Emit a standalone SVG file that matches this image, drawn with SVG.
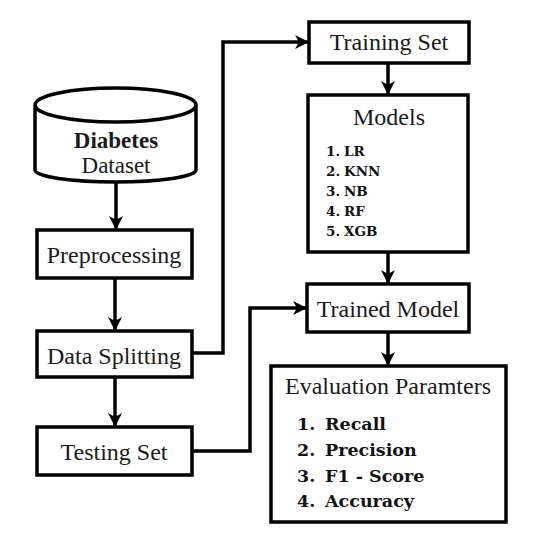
<svg xmlns="http://www.w3.org/2000/svg" width="540" height="543" viewBox="0 0 540 543">
<defs>
<marker id="ah" viewBox="0 0 14 14" refX="14" refY="7" markerWidth="14" markerHeight="14" markerUnits="userSpaceOnUse" orient="auto">
<path d="M0,0 L14,7 L0,14 L4,7 Z" fill="#000"/>
</marker>
<style>
.box{fill:#fff;stroke:#000;stroke-width:3.5}
.lbl{font-family:"Liberation Serif","Times New Roman",serif;font-size:24px;fill:#1a1a1a;text-anchor:middle}
.bl{font-family:"DejaVu Serif",serif;font-weight:bold;fill:#111}
.m{font-size:13.5px}
.e{font-size:17.5px}
.conn{fill:none;stroke:#000;stroke-width:3.5;marker-end:url(#ah)}
</style>
</defs>
<rect width="540" height="543" fill="#fff"/>
<g id="connectors">
<path class="conn" d="M116,182 V230"/>
<path class="conn" d="M115,278 V331"/>
<path class="conn" d="M115,377 V427"/>
<path class="conn" d="M192,353 H223 V42 H309"/>
<path class="conn" d="M192,451 H250 V308 H307"/>
<path class="conn" d="M388,63 V95"/>
<path class="conn" d="M388,252 V284"/>
<path class="conn" d="M388,332 V366"/>
</g>
<g id="dataset">
<path class="box" d="M35,105 V170 A80.5,12 0 0 0 196,170 V105 A80.5,17 0 0 0 35,105 A80.5,17 0 0 0 196,105"/>
<text class="lbl" x="116" y="148" style="font-weight:bold;font-size:23px">Diabetes</text>
<text class="lbl" x="116" y="173" style="font-size:23px">Dataset</text>
</g>
<g id="preprocessing">
<rect class="box" x="37" y="230" width="155" height="48"/>
<text class="lbl" x="114" y="263">Preprocessing</text>
</g>
<g id="data-splitting">
<rect class="box" x="37" y="331" width="155" height="46"/>
<text class="lbl" x="114" y="364">Data Splitting</text>
</g>
<g id="testing-set">
<rect class="box" x="37" y="427" width="155" height="48"/>
<text class="lbl" x="114" y="460">Testing Set</text>
</g>
<g id="training-set">
<rect class="box" x="309" y="22" width="160" height="41"/>
<text class="lbl" x="389" y="50">Training Set</text>
</g>
<g id="models">
<rect class="box" x="308" y="95" width="160" height="157"/>
<text class="lbl" x="389" y="125">Models</text>
<text class="bl m"><tspan x="326" y="156">1.</tspan><tspan x="344">LR</tspan></text>
<text class="bl m"><tspan x="326" y="176">2.</tspan><tspan x="344">KNN</tspan></text>
<text class="bl m"><tspan x="326" y="196">3.</tspan><tspan x="344">NB</tspan></text>
<text class="bl m"><tspan x="326" y="216">4.</tspan><tspan x="344">RF</tspan></text>
<text class="bl m"><tspan x="326" y="236">5.</tspan><tspan x="344">XGB</tspan></text>
</g>
<g id="trained-model">
<rect class="box" x="307" y="284" width="162" height="48"/>
<text class="lbl" x="388" y="317">Trained Model</text>
</g>
<g id="evaluation">
<rect class="box" x="271" y="366" width="235" height="156"/>
<text class="lbl" x="388" y="394">Evaluation Paramters</text>
<text class="bl e"><tspan x="297" y="430">1.</tspan><tspan x="325">Recall</tspan></text>
<text class="bl e"><tspan x="297" y="456">2.</tspan><tspan x="325">Precision</tspan></text>
<text class="bl e"><tspan x="297" y="482">3.</tspan><tspan x="325">F1 - Score</tspan></text>
<text class="bl e"><tspan x="297" y="507">4.</tspan><tspan x="325">Accuracy</tspan></text>
</g>
</svg>
